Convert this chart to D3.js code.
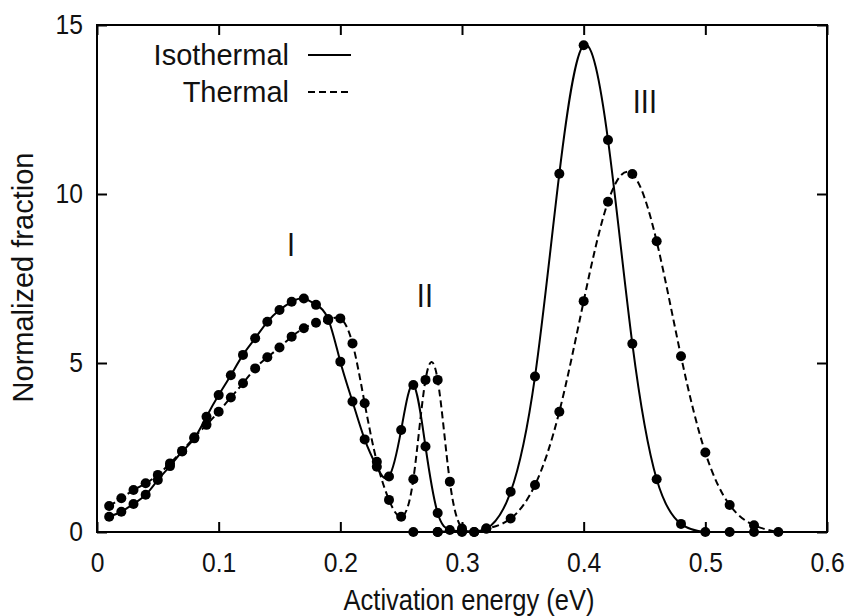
<!DOCTYPE html>
<html lang="en">
<head>
<meta charset="UTF-8">
<script src="https://cdn.jsdelivr.net/npm/d3@7/dist/d3.min.js"></script>
<style>
    body { margin: 0; background: #fff; }
    text { font-family: "Liberation Sans", Arial, sans-serif; font-weight: normal; fill: #111; }
    .frame { fill: none; stroke: #000; stroke-width: 2px; }
    .iso { fill: none; stroke: #000; stroke-width: 2px; }
    .therm { fill: none; stroke: #000; stroke-width: 2px; stroke-dasharray: 7 4; }
    .dot { fill: #000; }
</style>
</head>
<body>
<script>
    /* Peaks I and II, sampled every 0.01 eV */
    var energyA = [0.01, 0.02, 0.03, 0.04, 0.05, 0.06, 0.07, 0.08, 0.09, 0.10,
                   0.11, 0.12, 0.13, 0.14, 0.15, 0.16, 0.17, 0.18, 0.19, 0.20,
                   0.21, 0.22, 0.23, 0.24, 0.25, 0.26, 0.27, 0.28, 0.29, 0.30, 0.31];
    var isoA = [0.45, 0.6, 0.83, 1.1, 1.54, 1.95, 2.38, 2.77, 3.41, 4.05,
                4.64, 5.24, 5.73, 6.22, 6.57, 6.81, 6.91, 6.72, 6.3, 5.04,
                3.86, 2.74, 1.93, 1.64, 3.02, 4.35, 2.53, 0.56, 0.06, 0.02, 0];
    var thermA = [0.77, 1.0, 1.24, 1.44, 1.69, 2.03, 2.4, 2.8, 3.17, 3.56,
                  3.98, 4.4, 4.84, 5.17, 5.46, 5.78, 6.03, 6.19, 6.27, 6.32,
                  5.58, 3.81, 2.08, 0.95, 0.45, 1.56, 4.5, 4.5, 1.49, 0.1, 0];

    /* Peak III, sampled every 0.02 eV */
    var energyIsoB = [0.26, 0.28, 0.30, 0.32, 0.34, 0.36, 0.38, 0.40,
                      0.42, 0.44, 0.46, 0.48, 0.50, 0.52, 0.54];
    var isoB = [0, 0, 0.03, 0.1, 1.19, 4.6, 10.6, 14.4, 11.6, 5.57, 1.56, 0.24, 0, 0, 0];
    var energyThermB = [0.28, 0.30, 0.32, 0.34, 0.36, 0.38, 0.40, 0.42,
                        0.44, 0.46, 0.48, 0.50, 0.52, 0.54, 0.56];
    var thermB = [0, 0, 0.1, 0.4, 1.39, 3.56, 6.83, 9.77, 10.59, 8.6, 5.2, 2.35, 0.8, 0.2, 0];

    var xTicks = [0, 0.1, 0.2, 0.3, 0.4, 0.5, 0.6];
    var yTicks = [0, 5, 10, 15];
    var peakLabels = ["I", "II", "III"];
    var peakPos = [[0.1594, 8.17], [0.2695, 6.65], [0.4503, 12.4]];
    var legendNames = ["Isothermal", "Thermal"];

    var width = 856, height = 616;
    var margin = {top: 25, right: 29, bottom: 84, left: 97};

    var svg = d3.select('body').append('svg')
        .attr('width', width)
        .attr('height', height);

    var x = d3.scaleLinear().domain([0, 0.6]).range([margin.left, width - margin.right]);
    var y = d3.scaleLinear().domain([0, 15]).range([height - margin.bottom, margin.top]);

    // clip so the spline never spills out of the frame
    svg.append('clipPath').attr('id', 'plotclip').append('rect')
        .attr('x', x(0)).attr('y', y(15))
        .attr('width', x(0.6) - x(0)).attr('height', y(0) - y(15));

    /* Build the point lists */
    function zip(xs, ys) {
        return xs.map(function(d, i) { return [d, ys[i]]; });
    }
    var series = [
        {cls: 'iso', pts: zip(energyA, isoA)},
        {cls: 'iso', pts: zip(energyIsoB, isoB)},
        {cls: 'therm', pts: zip(energyA, thermA)},
        {cls: 'therm', pts: zip(energyThermB, thermB)}
    ];

    // gnuplot csplines look -> natural cubic
    var line = d3.line()
        .x(function(d) { return x(d[0]); })
        .y(function(d) { return y(d[1]); })
        .curve(d3.curveNatural);

    var plot = svg.append('g').attr('clip-path', 'url(#plotclip)');

    plot.selectAll('.curve').data(series).enter().append('path')
        .attr('class', function(d) { return d.cls; })
        .attr('d', function(d) { return line(d.pts); });

    series.forEach(function(s) {
        svg.append('g').selectAll('circle').data(s.pts).enter().append('circle')
            .attr('class', 'dot')
            .attr('cx', function(d) { return x(d[0]); })
            .attr('cy', function(d) { return y(d[1]); })
            .attr('r', 5);
    });

    /* Axes: ticks on all four sides, pointing inwards */
    var tl = 10;
    var squeeze = 'scale(0.88,1)';   // the original lettering is a bit narrow
    var axes = svg.append('g');
    axes.append('g').attr('transform', 'translate(0,' + y(0) + ')')
        .call(d3.axisBottom(x).tickValues(xTicks).tickSize(-tl).tickPadding(20)
              .tickFormat(function(d) { return d === 0 ? '0' : d3.format('.1f')(d); }));
    axes.append('g').attr('transform', 'translate(0,' + y(15) + ')')
        .call(d3.axisTop(x).tickValues(xTicks).tickSize(-tl).tickFormat(''));
    axes.append('g').attr('transform', 'translate(' + x(0) + ',0)')
        .call(d3.axisLeft(y).tickValues(yTicks).tickSize(-tl).tickPadding(16));
    axes.append('g').attr('transform', 'translate(' + x(0.6) + ',0)')
        .call(d3.axisRight(y).tickValues(yTicks).tickSize(-tl).tickFormat(''));
    axes.selectAll('.domain').remove();
    axes.selectAll('.tick line').attr('stroke', '#000').attr('stroke-width', 2);
    axes.selectAll('.tick text')
        .attr('fill', '#111')
        .attr('font-family', null)
        .attr('transform', squeeze)
        .style('font-size', '28px');

    svg.append('rect').attr('class', 'frame')
        .attr('x', x(0)).attr('y', y(15))
        .attr('width', x(0.6) - x(0)).attr('height', y(0) - y(15));

    /* Axis titles */
    svg.append('text')
        .attr('transform', 'translate(' + ((x(0) + x(0.6)) / 2 + 7) + ',610) scale(0.88,1)')
        .attr('text-anchor', 'middle').style('font-size', '29px')
        .text('Activation energy (eV)');
    svg.append('text')
        .attr('transform', 'translate(33,' + ((y(0) + y(15)) / 2 - 1) + ') rotate(-90)')
        .attr('text-anchor', 'middle').style('font-size', '29px')
        .text('Normalized fraction');

    /* Peak labels */
    svg.selectAll('.peak').data(peakLabels).enter().append('text')
        .attr('class', 'peak')
        .attr('transform', function(d, i) {
            return 'translate(' + x(peakPos[i][0]) + ',' + y(peakPos[i][1]) + ') scale(0.85,1)';
        })
        .attr('text-anchor', 'middle').style('font-size', '34px')
        .text(function(d) { return d; });

    /* Legend */
    var leg = svg.append('g');
    legendNames.forEach(function(name, i) {
        var ly = 55 + i * 37;
        leg.append('text').attr('x', 289).attr('y', ly + 10)
            .attr('text-anchor', 'end').style('font-size', '29px').text(name);
        leg.append('line').attr('class', i === 0 ? 'iso' : 'therm')
            .attr('x1', 308).attr('x2', 351).attr('y1', ly).attr('y2', ly);
    });
</script>
</body>
</html>
